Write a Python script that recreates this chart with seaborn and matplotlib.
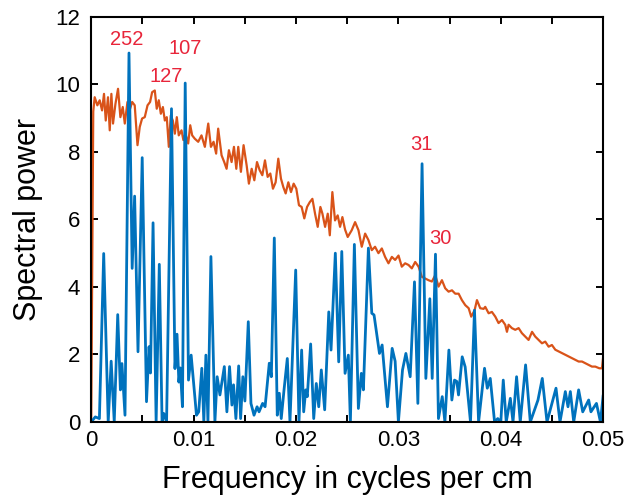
import matplotlib
matplotlib.use("Agg")
import matplotlib.pyplot as plt
import matplotlib.ticker as mticker
import pandas as pd
import seaborn as sns

# =========================================================
# データ
# =========================================================
# 周期図（青）
blue_freq = [
    0.0, 0.0004, 0.0008, 0.00122, 0.00166, 0.00195, 0.00225, 0.00259, 0.00285, 0.003,
    0.0033, 0.00369, 0.004, 0.00424, 0.00457, 0.00498, 0.0054, 0.00565, 0.00579, 0.00604,
    0.00634, 0.00665, 0.00692, 0.00709, 0.00736, 0.00784, 0.00818, 0.00838, 0.00856, 0.0087,
    0.00891, 0.00918, 0.0095, 0.00976, 0.01028, 0.0105, 0.0108, 0.011, 0.0112, 0.0114,
    0.01169, 0.01208, 0.0123, 0.01257, 0.013, 0.01325, 0.01351, 0.01374, 0.0139, 0.01413,
    0.0144, 0.01459, 0.01481, 0.01501, 0.01534, 0.0156, 0.0159, 0.0162, 0.01639, 0.01674,
    0.01698, 0.01739, 0.01759, 0.01788, 0.01817, 0.01837, 0.01856, 0.01883, 0.01915, 0.01941,
    0.01997, 0.02029, 0.02055, 0.02075, 0.02095, 0.0211, 0.02143, 0.02173, 0.02198, 0.02222,
    0.02247, 0.0228, 0.0232, 0.02342, 0.02384, 0.02417, 0.02447, 0.02479, 0.02511, 0.02531,
    0.0257, 0.02609, 0.02638, 0.02658, 0.02707, 0.0274, 0.02762, 0.02815, 0.02841, 0.02893,
    0.02939, 0.02968, 0.03, 0.0304, 0.03073, 0.03115, 0.03157, 0.0319, 0.03231, 0.03268,
    0.03307, 0.0333, 0.03362, 0.03391, 0.03428, 0.03454, 0.03493, 0.03522, 0.03548, 0.0357,
    0.03587, 0.03623, 0.03652, 0.03704, 0.03743, 0.03783, 0.03841, 0.03868, 0.03897, 0.03939,
    0.0397, 0.04, 0.04024, 0.04053, 0.04093, 0.04119, 0.04154, 0.0419, 0.04242, 0.04288,
    0.04363, 0.04405, 0.04451, 0.04539, 0.04578, 0.0463, 0.04656, 0.04679, 0.04712, 0.0476,
    0.048, 0.04858, 0.0488, 0.04934, 0.04973, 0.05,
]
blue_power = [
    0.0, 0.15, 0.1, 4.99, 0.0, 1.8, 0.0, 3.18, 0.95, 1.73,
    0.2, 10.93, 4.55, 6.69, 2.08, 7.83, 0.6, 2.23, 1.45, 5.9,
    0.0, 4.67, 0.0, 0.25, 0.0, 9.28, 1.58, 2.6, 1.18, 1.6,
    0.45, 10.04, 1.24, 1.98, 0.2, 0.3, 1.59, 0.0, 1.98, 0.0,
    4.9, 0.0, 1.34, 0.8, 1.64, 0.3, 1.64, 0.5, 1.1, 0.1,
    1.66, 0.1, 1.34, 0.62, 2.97, 0.55, 0.2, 0.45, 0.3, 0.55,
    0.45, 1.74, 1.34, 5.45, 0.2, 0.85, 0.1, 0.95, 1.88, 0.0,
    4.5, 0.0, 2.13, 0.3, 0.95, 0.75, 2.31, 0.1, 1.14, 0.45,
    1.54, 0.36, 3.26, 2.13, 5.0, 1.78, 5.05, 1.44, 1.98, 0.0,
    5.26, 0.4, 1.44, 0.95, 5.15, 3.22, 3.17, 2.03, 2.28, 0.45,
    2.18, 1.8, 0.0, 1.54, 2.03, 1.34, 4.15, 0.55, 7.65, 1.29,
    3.65, 1.29, 4.97, 0.1, 0.75, 0.0, 2.13, 0.65, 1.24, 1.2,
    0.8, 1.93, 1.63, 0.0, 3.31, 0.0, 1.59, 1.0, 1.29, 0.0,
    0.1, 0.0, 1.24, 0.0, 0.7, 0.0, 1.34, 0.0, 1.69, 0.0,
    0.65, 1.29, 0.0, 1.0, 0.0, 0.9, 0.45, 0.9, 0.0, 0.95,
    0.3, 0.65, 0.3, 0.55, 0.0, 0.8,
]

# レッドノイズ（オレンジ）
orange_freq = [
    0.0, 0.0002, 0.00034, 0.0006, 0.00083, 0.00106, 0.00125, 0.00142, 0.00164, 0.00181,
    0.00197, 0.00213, 0.00237, 0.00262, 0.00285, 0.00308, 0.00328, 0.00354, 0.0038, 0.004,
    0.00425, 0.00452, 0.00474, 0.00497, 0.00523, 0.0055, 0.00575, 0.00595, 0.00621, 0.0064,
    0.0066, 0.0068, 0.007, 0.00719, 0.00738, 0.00758, 0.00777, 0.00797, 0.00817, 0.00836,
    0.00855, 0.00882, 0.009, 0.0092, 0.00947, 0.00967, 0.00986, 0.01012, 0.01045, 0.01077,
    0.0111, 0.01143, 0.01169, 0.01195, 0.0122, 0.0124, 0.01273, 0.01299, 0.01322, 0.01345,
    0.01371, 0.01394, 0.01417, 0.01436, 0.01462, 0.01488, 0.01518, 0.0154, 0.01567, 0.01593,
    0.01619, 0.01645, 0.01671, 0.01697, 0.01723, 0.01749, 0.01775, 0.01801, 0.01827, 0.01853,
    0.01876, 0.01899, 0.01925, 0.01951, 0.01977, 0.02003, 0.02029, 0.02055, 0.02081, 0.02108,
    0.02134, 0.0216, 0.02186, 0.02212, 0.02238, 0.02258, 0.02284, 0.0231, 0.0233, 0.02355,
    0.02381, 0.02407, 0.0243, 0.02453, 0.02479, 0.02505, 0.02544, 0.02577, 0.0261, 0.02642,
    0.02675, 0.02707, 0.0274, 0.02772, 0.02805, 0.02838, 0.0287, 0.02903, 0.02936, 0.02968,
    0.03001, 0.03033, 0.03066, 0.03099, 0.03131, 0.03164, 0.03197, 0.03229, 0.03262, 0.03294,
    0.03327, 0.0336, 0.03392, 0.03425, 0.03457, 0.0349, 0.03523, 0.03555, 0.03588, 0.0362,
    0.03653, 0.03686, 0.03711, 0.03744, 0.03767, 0.03799, 0.03832, 0.03848, 0.03881, 0.03913,
    0.03946, 0.03978, 0.04011, 0.04043, 0.0406, 0.04076, 0.04108, 0.04141, 0.04174, 0.04206,
    0.04239, 0.04271, 0.04305, 0.04336, 0.04369, 0.04402, 0.04434, 0.04467, 0.04499, 0.04532,
    0.04565, 0.04597, 0.0463, 0.04662, 0.04695, 0.04727, 0.0476, 0.04793, 0.04825, 0.04858,
    0.0489, 0.04923, 0.04962, 0.04988, 0.05,
]
orange_power = [
    0.0, 9.2, 9.62, 9.38, 9.53, 9.23, 9.72, 8.93, 9.62, 8.64,
    9.72, 8.84, 9.43, 9.87, 9.03, 9.33, 8.84, 9.48, 9.28, 9.48,
    9.38, 8.2, 8.74, 8.99, 9.03, 9.38, 9.48, 9.77, 9.82, 9.28,
    9.53, 9.13, 9.33, 8.93, 9.03, 8.15, 9.08, 8.93, 8.54, 9.03,
    8.49, 8.64, 8.35, 8.54, 8.25, 8.79, 8.49, 8.39, 8.3, 8.49,
    8.15, 8.84, 8.15, 8.3, 7.95, 8.69, 7.9, 7.7, 7.5, 8.05,
    7.7, 8.15, 7.5, 8.15, 7.41, 8.2, 7.6, 7.06, 7.5, 7.16,
    7.7, 7.46, 7.31, 7.75, 7.26, 7.36, 6.91, 7.1, 7.8, 7.21,
    6.96, 6.77, 7.1, 6.81, 7.06, 6.91, 6.42, 6.37, 6.03, 6.37,
    6.51, 6.61, 6.17, 5.78, 6.37, 6.17, 5.78, 6.17, 5.53, 6.81,
    5.97, 6.12, 5.78, 6.07, 5.7, 5.48, 5.68, 5.92, 5.68, 5.19,
    5.58, 5.39, 5.09, 5.19, 5.0, 5.14, 4.89, 4.7, 4.89, 4.8,
    4.93, 4.6, 4.7, 4.65, 4.55, 4.74, 4.6, 4.3, 4.25, 4.2,
    4.16, 4.35, 4.01, 4.2, 3.96, 3.86, 3.9, 3.8, 3.8, 3.61,
    3.46, 3.37, 3.12, 3.31, 3.61, 3.37, 3.35, 3.41, 3.22, 3.26,
    3.12, 2.93, 3.02, 2.88, 2.67, 2.88, 2.78, 2.73, 2.78, 2.63,
    2.53, 2.43, 2.67, 2.53, 2.43, 2.33, 2.38, 2.23, 2.28, 2.14,
    2.09, 2.04, 1.99, 1.94, 1.89, 1.84, 1.79, 1.79, 1.74, 1.69,
    1.64, 1.64, 1.59, 1.59, 1.94,
]

# ピークのラベル（周期 cm）
peak_labels = ["252", "107", "127", "31", "30"]
peak_label_x = [0.0035, 0.00918, 0.0073, 0.03222, 0.03408]
peak_label_y = [11.34, 11.07, 10.23, 8.22, 5.44]

# =========================================================
# 描画
# =========================================================
sns.set_style("ticks")
plt.rcParams['font.family'] = ['Liberation Sans', 'DejaVu Sans']
plt.rcParams['text.color'] = 'black'
plt.rcParams['axes.labelcolor'] = 'black'

df_blue = pd.DataFrame({"freq": blue_freq, "power": blue_power})
df_orange = pd.DataFrame({"freq": orange_freq, "power": orange_power})

fig = plt.figure(figsize=(6.29, 4.97), dpi=100)
ax = fig.add_axes([0.145, 0.151, 0.814, 0.815])

sns.lineplot(data=df_orange, x="freq", y="power", color="#D95319",
             linewidth=1.6, estimator=None, ax=ax)
sns.lineplot(data=df_blue, x="freq", y="power", color="#0072BD",
             linewidth=2.0, estimator=None, ax=ax)

for lab, lx, ly in zip(peak_labels, peak_label_x, peak_label_y):
    ax.text(lx, ly, lab, color="#E8253A", fontsize=14.5, ha="center", va="center")

ax.set_xlim(0, 0.05)
ax.set_ylim(0, 12)
ax.xaxis.set_major_locator(mticker.MultipleLocator(0.01))
ax.xaxis.set_minor_locator(mticker.MultipleLocator(0.005))
ax.yaxis.set_major_locator(mticker.MultipleLocator(2))
ax.xaxis.set_major_formatter(mticker.FuncFormatter(lambda v, p: f"{v:g}"))

ax.tick_params(which="both", direction="in", top=True, right=True,
               length=5, width=1.4, colors="black", labelsize=16)
ax.tick_params(axis="x", which="major", pad=6)
ax.tick_params(axis="y", which="major", pad=8)
for sp in ax.spines.values():
    sp.set_visible(True)
    sp.set_linewidth(1.5)
    sp.set_color("black")

ax.set_xlabel("Frequency in cycles per cm", fontsize=22, labelpad=10, color="black")
ax.set_ylabel("Spectral power", fontsize=22, labelpad=9, color="black")

fig.savefig("out.png", dpi=100)
plt.close(fig)
